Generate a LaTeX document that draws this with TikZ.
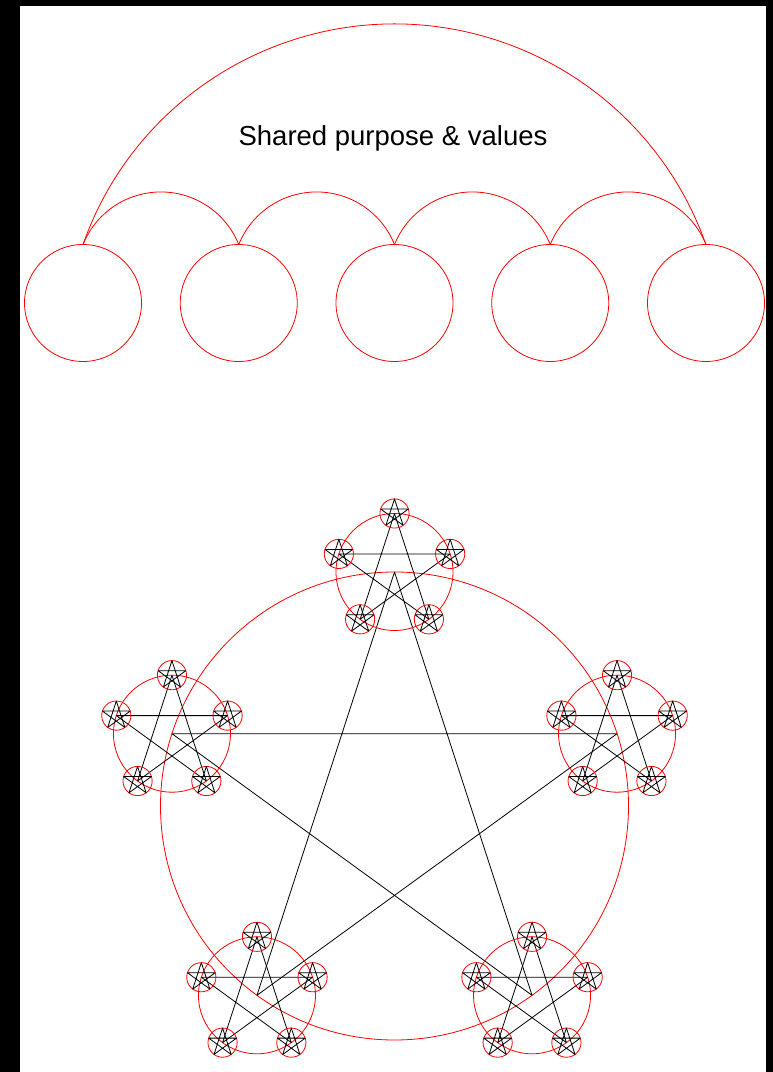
\documentclass[tikz,border=0pt]{standalone}
\usepackage{fontspec}
\setmainfont{Liberation Sans}
\tikzset{
  ring/.style={draw=red, line width=0.8pt},
  starline/.style={draw=black, line width=0.8pt, line join=round},
  member/.style={circle, ring, minimum size=117, inner sep=0pt, outer sep=0pt},
}
% one circle with its five-pointed star, centred on the current origin
\newcommand\pentaring[1]{%
  \draw[ring] (0,0) circle (#1);
  \draw[starline] (90:#1) -- (234:#1) -- (18:#1) -- (162:#1) -- (306:#1) -- cycle;
}
\begin{document}
\begin{tikzpicture}[x=1pt, y=1pt]
  \useasboundingbox (0,0) rectangle (773,1072);
  \fill[black] (0,0) rectangle (773,1072);
  \fill[white] (20,0) rectangle (766,1066);

  % circles sharing one purpose
  \foreach \i in {1,...,5}
    \node[member] (c\i) at ({83+155.75*(\i-1)},769) {};
  \foreach \i/\j in {1/2,2/3,3/4,4/5}
    \draw[ring] (c\i.north) arc[start angle=158, end angle=22, radius=84];
  \draw[ring] (c1.north) arc[start angle=160.6, end angle=19.4, radius=330.2];
  \node[anchor=base, font=\fontsize{27.5}{33}\selectfont] (purpose) at (393,926.5) {Shared purpose \& values};

  % stars within stars
  \begin{scope}[shift={(394.5,266)}]
    \pentaring{234}
    \foreach \a in {90,162,234,306,18} {
      \begin{scope}[shift={(\a:234)}]
        \pentaring{58.5}
        \foreach \b in {90,162,234,306,18} {
          \begin{scope}[shift={(\b:58.5)}]
            \pentaring{14.6}
          \end{scope}
        }
      \end{scope}
    }
  \end{scope}
\end{tikzpicture}
\end{document}
